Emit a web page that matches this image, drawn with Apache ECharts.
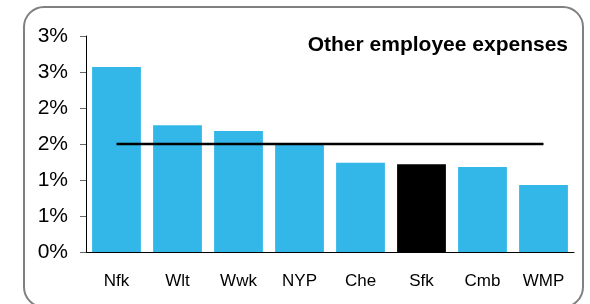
<!doctype html>
<html>
<head>
<meta charset="utf-8">
<title>Other employee expenses</title>
<script src="https://cdn.jsdelivr.net/npm/echarts@6/dist/echarts.min.js"></script>
<style>
html, body { margin: 0; padding: 0; background: #fff; }
#main { width: 590px; height: 304px; }
</style>
</head>
<body>
<div id="main"></div>
<script>
// data (values in %)
var categories = ['Nfk', 'Wlt', 'Wwk', 'NYP', 'Che', 'Sfk', 'Cmb', 'WMP'];
var values = [2.57, 1.76, 1.68, 1.49, 1.24, 1.22, 1.18, 0.93];
var average = [1.5, 1.5, 1.5, 1.5, 1.5, 1.5, 1.5, 1.5];
var highlight = 'Sfk';

var myChart = echarts.init(document.getElementById('main'));

var barData = categories.map(function (c, i) {
  return {
    value: values[i],
    itemStyle: { color: c == highlight ? '#000000' : '#32B7E8' }
  };
});

var option = {
  animation: false,
  textStyle: { fontFamily: 'Liberation Sans, Arial, sans-serif' },
  graphic: [{
    type: 'rect',
    shape: { x: 24, y: 7, width: 559, height: 300, r: 20 },
    style: { fill: 'none', stroke: '#808080', lineWidth: 2 },
    z: -1
  }],
  title: {
    text: 'Other employee expenses',
    right: 17,
    top: 30,
    textStyle: { fontSize: 21, fontWeight: 'bold', color: '#000' }
  },
  grid: { left: 86, right: 16, top: 36, bottom: 52 },
  xAxis: {
    type: 'category',
    data: categories,
    axisLine: { lineStyle: { color: '#000', width: 1 } },
    axisTick: { show: false },
    axisLabel: { color: '#000', fontSize: 17, margin: 21 }
  },
  yAxis: {
    type: 'value',
    min: 0,
    max: 3,
    interval: 0.5,
    splitLine: { show: false },
    axisLine: { show: true, lineStyle: { color: '#000', width: 1 } },
    axisTick: { show: true, length: 6, lineStyle: { color: '#666' } },
    axisLabel: {
      color: '#000',
      fontSize: 21,
      margin: 18,
      formatter: function (v) { return Math.round(v) + '%'; }
    }
  },
  series: [
    {
      type: 'bar',
      data: barData,
      barCategoryGap: '20%'
    },
    {
      type: 'line',
      data: average,
      symbol: 'none',
      lineStyle: { color: '#000', width: 2.5 },
      z: 3
    }
  ]
};

myChart.setOption(option);
</script>
</body>
</html>
